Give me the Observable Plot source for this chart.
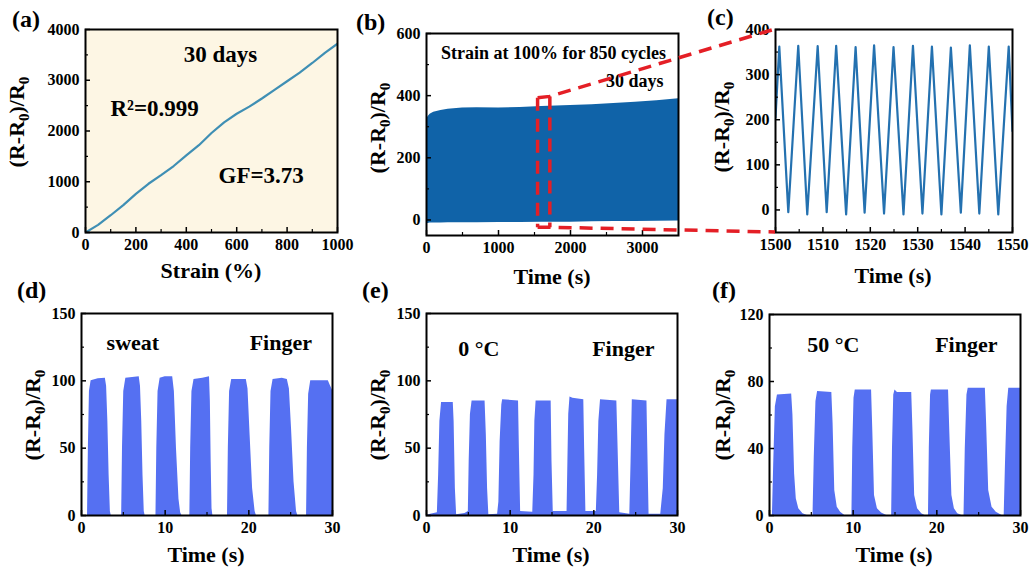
<!DOCTYPE html>
<html><head><meta charset="utf-8">
<script src="https://cdn.jsdelivr.net/npm/d3@7"></script>
<script src="https://cdn.jsdelivr.net/npm/@observablehq/plot@0.6"></script>
<style>
html,body{margin:0;padding:0;background:#fff;}
#fig{position:relative;width:1029px;height:571px;overflow:hidden;background:#fff;}
#fig svg{position:absolute;overflow:visible;}
</style></head><body><div id="fig"></div>
<script>
// ---------- data ----------
// (a) response vs strain, 30 days
const aStrain = [0,50,100,150,200,250,300,350,400,450,500,550,600,650,700,750,800,850,900,950,1000];
const aResp   = [0,150,340,540,760,960,1130,1310,1520,1720,1960,2170,2340,2480,2640,2810,2980,3150,3340,3540,3720];
// (b) 850 cycles at 100% strain: envelope of the dense oscillation
const bTime  = [0,20,50,100,200,300,500,700,1000,1300,1600,2000,2300,2600,2900,3200,3500];
const bUpper = [320,332,340,347,352,356,360,361,360,362,365,368,371,375,379,384,390];
const bLower = [-12,-11,-10,-10,-10,-9,-9,-9,-8,-8,-7,-7,-6,-5,-5,-4,-3];
// (c) zoom 1500-1550 s
const cTime = [1500,1500.8,1502.7,1504.8,1506.7,1508.9,1510.8,1512.8,1514.9,1516.9,1518.8,1520.8,1522.9,1524.9,1527,1529,1531,1533,1535,1537,1539.1,1541,1543,1545,1547,1549.2,1550];
const cResp = [205,362,-5,364,-10,363,-5,364,-10,361,-6,365,-8,361,-10,364,-8,362,-10,360,-6,365,-8,362,-10,362,175];
// (d) sweat, finger bending
const dTime = [0,0.72,0.82,0.95,1.15,2.0,2.85,3.0,3.15,3.3,3.45,3.55,
  4.8,4.9,5.05,5.3,6.9,7.05,7.2,7.35,7.5,7.6,
  8.9,9.0,9.15,9.4,10.0,10.9,11.1,11.35,11.65,11.85,12.0,
  12.95,13.05,13.2,13.45,14.5,15.3,15.4,15.5,15.6,15.7,
  17.45,17.55,17.7,17.95,19.7,19.9,20.15,20.45,20.75,20.9,
  22.4,22.5,22.65,22.9,24.0,24.6,24.85,25.1,25.4,25.7,25.85,
  26.9,27.0,27.15,27.4,29.5,29.7,30];
const dResp = [0,0,50,92,100,101.5,102,96,70,30,3,0,
  0,50,92,102,103,96,70,30,3,0,
  0,50,92,102,103,103,92,50,12,2,0,
  0,50,92,101,102,103,85,40,5,0,
  0,50,92,101,101,94,60,20,3,0,
  0,50,92,101,102,101,94,65,25,3,0,
  0,50,90,100,100,97,93];
// (e) 0 °C, finger bending
const eTime = [0,0.5,1.3,1.45,1.6,1.8,3.2,3.3,3.45,3.6,4.6,5.0,5.1,5.25,5.45,7.0,7.15,7.3,7.45,8.5,8.65,8.8,9.0,9.1,11.0,11.1,11.25,12.7,12.85,12.95,13.1,14.9,15.0,15.15,16.8,16.9,17.0,17.15,17.5,18.8,18.9,19.05,20.3,20.45,20.6,20.8,22.75,22.9,23.1,24.3,24.45,24.6,26.35,26.45,26.6,28.0,28.3,28.5,28.75,30];
const eResp = [0,1,2,30,70,84,84,70,20,0.5,1.5,3,40,75,85,85,60,20,0.5,1,10,55,82,86,85,50,3,2.5,30,70,85,85,40,3,3,40,75,88,87,86,50,3,3,30,70,86,85,50,2,1,40,86,85,50,1,1,20,60,86,86];
// (f) 50 °C, finger bending
const fTime = [0,0.35,0.5,0.7,0.95,2.65,2.8,3.0,3.2,3.5,4.0,4.5,5.2,5.35,5.55,5.75,7.45,7.6,7.8,8.1,8.5,9.0,9.85,9.95,10.1,10.25,12.2,12.35,12.55,12.9,13.4,14.0,14.6,14.7,14.85,15.0,15.3,17.0,17.15,17.35,17.7,18.2,18.6,19.0,19.1,19.25,19.35,21.4,21.55,21.8,22.1,22.5,23.0,23.25,23.4,23.6,23.75,25.8,25.95,26.2,26.6,27.1,27.8,28.05,28.2,28.4,28.6,30];
const fResp = [0,0,30,65,72,72.5,60,25,10,4,1,0,0,35,68,74,73.5,55,15,5,2,0,0,40,70,75,75,50,12,4,1.5,0,0,40,72,75,73.5,73.5,50,12,4,1,0,0,40,72,75,75,50,12,4,1,0,0,40,72,76,76,55,15,5,2,0,0,30,65,76,76];
// tick values
const aXTicks = [0,200,400,600,800,1000], aXMinor = [100,300,500,700,900];
const aYTicks = [0,1000,2000,3000,4000], aYMinor = [500,1500,2500,3500];
const bXTicks = [0,1000,2000,3000], bXMinor = [500,1500,2500];
const bYTicks = [0,200,400,600], bYMinor = [100,300,500];
const cXTicks = [1500,1510,1520,1530,1540,1550], cXMinor = [1505,1515,1525,1535,1545];
const cYTicks = [0,100,200,300,400], cYMinor = [50,150,250,350];
const tXTicks = [0,10,20,30], tXMinor = [5,15,25];
const dYTicks = [0,50,100,150], dYMinor = [25,75,125];
const fYTicks = [0,40,80,120], fYMinor = [20,60,100];
const panelLetters = ["(a)","(b)","(c)","(d)","(e)","(f)"];

// ---------- tables ----------
const zip = (xs, ys) => xs.map((x, i) => ({x, y: ys[i]}));
const aData = zip(aStrain, aResp);
const bData = bTime.map((x, i) => ({x, lo: bLower[i], hi: bUpper[i]}));
const cData = zip(cTime, cResp);
const dData = zip(dTime, dResp), eData = zip(eTime, eResp), fData = zip(fTime, fResp);

const FONT = '"Liberation Serif", "Times New Roman", Times, serif';
const fig = document.getElementById("fig");
const ML = 60, MT = 8, MR = 20, MB = 60;

function panel(p) {
  const [L, T, R, B] = p.frame;
  const w = R - L, h = B - T;
  const fmt = d => String(d);
  const plot = Plot.plot({
    width: w + ML + MR, height: h + MT + MB,
    marginLeft: ML, marginTop: MT, marginRight: MR, marginBottom: MB,
    style: {fontFamily: FONT, fontWeight: "bold", fontSize: "16px", color: "black", background: "transparent", overflow: "visible"},
    x: {domain: p.x}, y: {domain: p.y},
    marks: [
      p.bg ? Plot.frame({fill: p.bg}) : null,
      ...p.marks,
      Plot.tickX(p.xt, {x: d => d, insetTop: h - 5, stroke: "black", strokeWidth: 1.5}),
      Plot.tickX(p.xm, {x: d => d, insetTop: h - 3, stroke: "black", strokeWidth: 1.2}),
      Plot.tickY(p.yt, {y: d => d, insetRight: w - 5, stroke: "black", strokeWidth: 1.5}),
      Plot.tickY(p.ym, {y: d => d, insetRight: w - 3, stroke: "black", strokeWidth: 1.2}),
      Plot.axisX({ticks: p.xt, tickSize: 0, tickPadding: 6, tickFormat: fmt, label: null, fontSize: 16, fontWeight: "bold"}),
      Plot.axisY({ticks: p.yt, tickSize: 0, tickPadding: 6, tickFormat: fmt, label: null, fontSize: 16, fontWeight: "bold"}),
      Plot.frame({stroke: "black", strokeWidth: 2})
    ]
  });
  plot.style.left = (L - ML) + "px";
  plot.style.top = (T - MT) + "px";
  fig.appendChild(plot);
  return {plot, L, T, ox: L - ML, oy: T - MT};
}

const txt = (s, opts) => Plot.text([s], {text: d => d, fontSize: 22, fontWeight: "bold", fill: "black", lineAnchor: "middle", ...opts});
const pulseColor = "#5570f2";

const A = panel({frame: [85, 29, 337, 232], x: [0, 1000], y: [0, 4000], bg: "#fdf6e4",
  xt: aXTicks, xm: aXMinor, yt: aYTicks, ym: aYMinor,
  marks: [
    Plot.line(aData, {x: "x", y: "y", stroke: "#3f8fb4", strokeWidth: 2.2, clip: true}),
    txt("30 days", {x: 536, y: 3507, textAnchor: "middle", fontSize: 23}),
    txt("R²=0.999", {x: 99, y: 2443, textAnchor: "start", fontSize: 23}),
    txt("GF=3.73", {x: 528, y: 1123, textAnchor: "start", fontSize: 23})
  ]});
const Bp = panel({frame: [426, 33, 678, 235], x: [0, 3500], y: [-50, 600],
  xt: bXTicks, xm: bXMinor, yt: bYTicks, ym: bYMinor,
  marks: [
    Plot.areaY(bData, {x: "x", y1: "lo", y2: "hi", fill: "#1063a8", clip: true}),
    txt("Strain at 100% for 850 cycles", {x: 1764, y: 536, textAnchor: "middle", fontSize: 18}),
    txt("30 days", {x: 3292, y: 446, textAnchor: "end", fontSize: 18})
  ]});
const C = panel({frame: [775, 29, 1012, 232], x: [1500, 1550], y: [-50, 400],
  xt: cXTicks, xm: cXMinor, yt: cYTicks, ym: cYMinor,
  marks: [Plot.line(cData, {x: "x", y: "y", stroke: "#2471b0", strokeWidth: 2.2, clip: true})]});
const D = panel({frame: [81, 313, 332, 515], x: [0, 30], y: [0, 150],
  xt: tXTicks, xm: tXMinor, yt: dYTicks, ym: dYMinor,
  marks: [
    Plot.areaY(dData, {x: "x", y: "y", fill: pulseColor, clip: true}),
    txt("sweat", {x: 3.0, y: 128, textAnchor: "start"}),
    txt("Finger", {x: 20.1, y: 128, textAnchor: "start"})
  ]});
const E = panel({frame: [426, 313, 677, 515], x: [0, 30], y: [0, 150],
  xt: tXTicks, xm: tXMinor, yt: dYTicks, ym: dYMinor,
  marks: [
    Plot.areaY(eData, {x: "x", y: "y", fill: pulseColor, clip: true}),
    txt("0 °C", {x: 3.8, y: 124, textAnchor: "start"}),
    txt("Finger", {x: 19.8, y: 124, textAnchor: "start"})
  ]});
const F = panel({frame: [769, 314, 1020, 515], x: [0, 30], y: [0, 120],
  xt: tXTicks, xm: tXMinor, yt: fYTicks, ym: fYMinor,
  marks: [
    Plot.areaY(fData, {x: "x", y: "y", fill: pulseColor, clip: true}),
    txt("50 °C", {x: 4.5, y: 102, textAnchor: "start"}),
    txt("Finger", {x: 19.8, y: 102, textAnchor: "start"})
  ]});

// ---------- overlay: titles, panel letters, zoom connectors ----------
const ov = d3.select(fig).append("svg").attr("width", 1029).attr("height", 571)
  .style("left", "0px").style("top", "0px").style("pointer-events", "none")
  .attr("font-family", FONT).attr("font-weight", "bold").attr("fill", "black");

function yTitle(x, y) {
  const t = ov.append("text").attr("transform", `translate(${x},${y}) rotate(-90)`)
    .attr("text-anchor", "middle").attr("font-size", 22);
  t.append("tspan").text("(R-R");
  t.append("tspan").attr("font-size", 15).attr("dy", 5).text("0");
  t.append("tspan").attr("dy", -5).text(")/R");
  t.append("tspan").attr("font-size", 15).attr("dy", 5).text("0");
}
function xTitle(s, x, y) {
  ov.append("text").attr("x", x).attr("y", y).attr("text-anchor", "middle").attr("font-size", 22).text(s);
}
yTitle(24, 122); yTitle(385, 128); yTitle(729, 127);
yTitle(40, 415); yTitle(385, 415); yTitle(730, 415);
xTitle("Strain (%)", 211, 278); xTitle("Time (s)", 552, 284); xTitle("Time (s)", 893, 283);
xTitle("Time (s)", 206, 562); xTitle("Time (s)", 551, 562); xTitle("Time (s)", 894, 562);
const letterPos = [[12, 27], [356, 30], [707, 25], [17, 298], [362, 298], [712, 298]];
panelLetters.forEach((s, i) => ov.append("text").attr("x", letterPos[i][0]).attr("y", letterPos[i][1]).attr("font-size", 24).text(s));

// zoom window in (b) data units, connected to (c)'s frame corners
const zoomX = [1550, 1720], zoomTop = [392, 396], zoomBottom = -25;
const bx = v => Bp.ox + Bp.plot.scale("x").apply(v), by = v => Bp.oy + Bp.plot.scale("y").apply(v);
const cx = v => C.ox + C.plot.scale("x").apply(v), cy = v => C.oy + C.plot.scale("y").apply(v);
const cDom = C.plot.scale("x").domain, cYDom = C.plot.scale("y").domain;
const red = {stroke: "#e41f26", "stroke-width": 3.5, "stroke-dasharray": "13,8", fill: "none"};
const paths = [
  [[bx(zoomX[0]), by(zoomTop[0])], [bx(zoomX[1]), by(zoomTop[1])], [cx(cDom[0]), cy(cYDom[1])]],
  [[bx(zoomX[0]), by(zoomBottom)], [bx(zoomX[1]), by(zoomBottom)], [cx(cDom[0]), cy(cYDom[0])]],
  [[bx(zoomX[0]), by(zoomTop[0])], [bx(zoomX[0]), by(zoomBottom)]],
  [[bx(zoomX[1]), by(zoomTop[1])], [bx(zoomX[1]), by(zoomBottom)]]
];
paths.forEach(p => {
  const el = ov.append("path").attr("d", d3.line()(p));
  Object.entries(red).forEach(([k, v]) => el.attr(k, v));
});
</script></body></html>
